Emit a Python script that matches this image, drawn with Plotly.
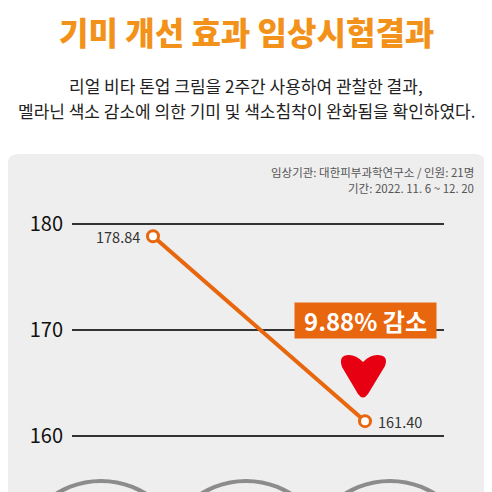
import plotly.graph_objects as go

# data
stages = ["사용 전", "2주 후"]
x_pos = [0, 1]
values = [178.84, 161.40]
value_labels = ["178.84", "161.40"]
y_ticks = [160, 170, 180]
y_tick_labels = ["160", "170", "180"]

title = "기미 개선 효과 임상시험결과"
subtitle = ["리얼 비타 톤업 크림을 2주간 사용하여 관찰한 결과,",
            "멜라닌 색소 감소에 의한 기미 및 색소침착이 완화됨을 확인하였다."]
source = ["임상기관: 대한피부과학연구소 / 인원: 21명",
          "기간: 2022. 11. 6 ~ 12. 20"]
badge = "9.88% 감소"

FONT = "Noto Sans CJK KR"
ORANGE = "#E8660D"

W, H = 492, 492
OFF = 8  # page body margin; positions below are measured on the screen
L, R, T, B = 72 - OFF, 444 - OFF, 190 - OFF, 470 - OFF  # plot area, figure px


def px(x):
    return (x - OFF - L) / (R - L)


def py(y):
    return (B - (y - OFF)) / (B - T)


fig = go.Figure()
fig.add_trace(go.Scatter(
    x=x_pos, y=values, mode="lines+markers",
    line=dict(color=ORANGE, width=4),
    marker=dict(size=11, color="white", line=dict(color=ORANGE, width=3)),
    hovertext=stages, cliponaxis=False, showlegend=False,
))

shapes = []
# rounded gray panel
r = 12
x0, x1, y0, y1 = 7, 486, 154, 520
shapes.append(dict(
    type="path", xref="paper", yref="paper", layer="below",
    path=(f"M {px(x0)} {py(y0 + r)} Q {px(x0)} {py(y0)} {px(x0 + r)} {py(y0)} "
          f"L {px(x1 - r)} {py(y0)} Q {px(x1)} {py(y0)} {px(x1)} {py(y0 + r)} "
          f"L {px(x1)} {py(y1)} L {px(x0)} {py(y1)} Z"),
    fillcolor="#EEEEEE", line=dict(width=0),
))
# gray circles at bottom (cut off)
for cx in (101, 246, 390):
    shapes.append(dict(
        type="circle", xref="paper", yref="paper",
        x0=px(cx - 85), x1=px(cx + 85), y0=py(481), y1=py(651),
        line=dict(color="#8C8C8C", width=4),
    ))
# red down arrow
arrow = [("M", 363, 362), ("Q", 370, 355, 377, 355), ("Q", 389, 355, 385, 366),
         ("L", 368, 394), ("Q", 363, 401, 358, 394), ("L", 342, 367),
         ("Q", 338, 355, 349, 355), ("Q", 356, 355, 363, 362)]
path = ""
for cmd, *c in arrow:
    pairs = [f"{px(c[i])} {py(c[i + 1])}" for i in range(0, len(c), 2)]
    path += f"{cmd} {' '.join(pairs)} "
shapes.append(dict(type="path", xref="paper", yref="paper",
                   path=path + "Z", fillcolor="#E60012", line=dict(width=0)))

annotations = [
    dict(text=title, x=px(246), y=py(31),
         font=dict(family="Noto Sans CJK KR Black, " + FONT, size=32,
                   color="#F2921A", weight=900)),
    dict(text=subtitle[0], x=px(246), y=py(85),
         font=dict(family=FONT, size=17, color="#222")),
    dict(text=subtitle[1], x=px(246), y=py(111),
         font=dict(family=FONT, size=17, color="#222")),
    dict(text=source[0], x=px(476), y=py(172), xanchor="right",
         font=dict(family=FONT, size=11.5, color="#555")),
    dict(text=source[1], x=px(476), y=py(188), xanchor="right",
         font=dict(family=FONT, size=11.5, color="#555")),
    dict(text=f"<b>{badge}</b>", x=px(365.5), y=py(320.5),
         width=141, height=35, bgcolor=ORANGE, borderpad=0,
         font=dict(family=FONT, size=24, color="white")),
]
for a in annotations:
    a.setdefault("xanchor", "center")
    a.update(xref="paper", yref="paper", yanchor="middle", showarrow=False)

# value labels beside the points
for xv, yv, lab, side in zip(x_pos, values, value_labels, ("right", "left")):
    annotations.append(dict(
        text=lab, x=xv, y=yv, xref="x", yref="y", showarrow=False,
        xanchor=side, yanchor="middle", xshift=-11 if side == "right" else 11,
        font=dict(family=FONT, size=14.5, color="#333"),
    ))

# axis ranges so the values land where the reference puts them
xr0 = -(153 - 72) / (365 - 153)
xr1 = xr0 + (R - L) / (365 - 153)
per = (436 - 224) / 20.0
yr0 = 160 - (470 - 436) / per
yr1 = 180 + (224 - 190) / per

fig.update_layout(
    width=W, height=H,
    margin=dict(l=L, r=W - R, t=T, b=H - B),
    paper_bgcolor="white", plot_bgcolor="rgba(0,0,0,0)",
    shapes=shapes, annotations=annotations,
    font=dict(family=FONT),
    xaxis=dict(range=[xr0, xr1], visible=False),
    yaxis=dict(range=[yr0, yr1], tickvals=y_ticks, ticktext=y_tick_labels,
               showgrid=True, gridcolor="#333", gridwidth=1.5,
               zeroline=False, showline=False, ticks="",
               ticklabelstandoff=8,
               tickfont=dict(family=FONT, size=20, color="#111")),
)

fig.write_html("out.html")
